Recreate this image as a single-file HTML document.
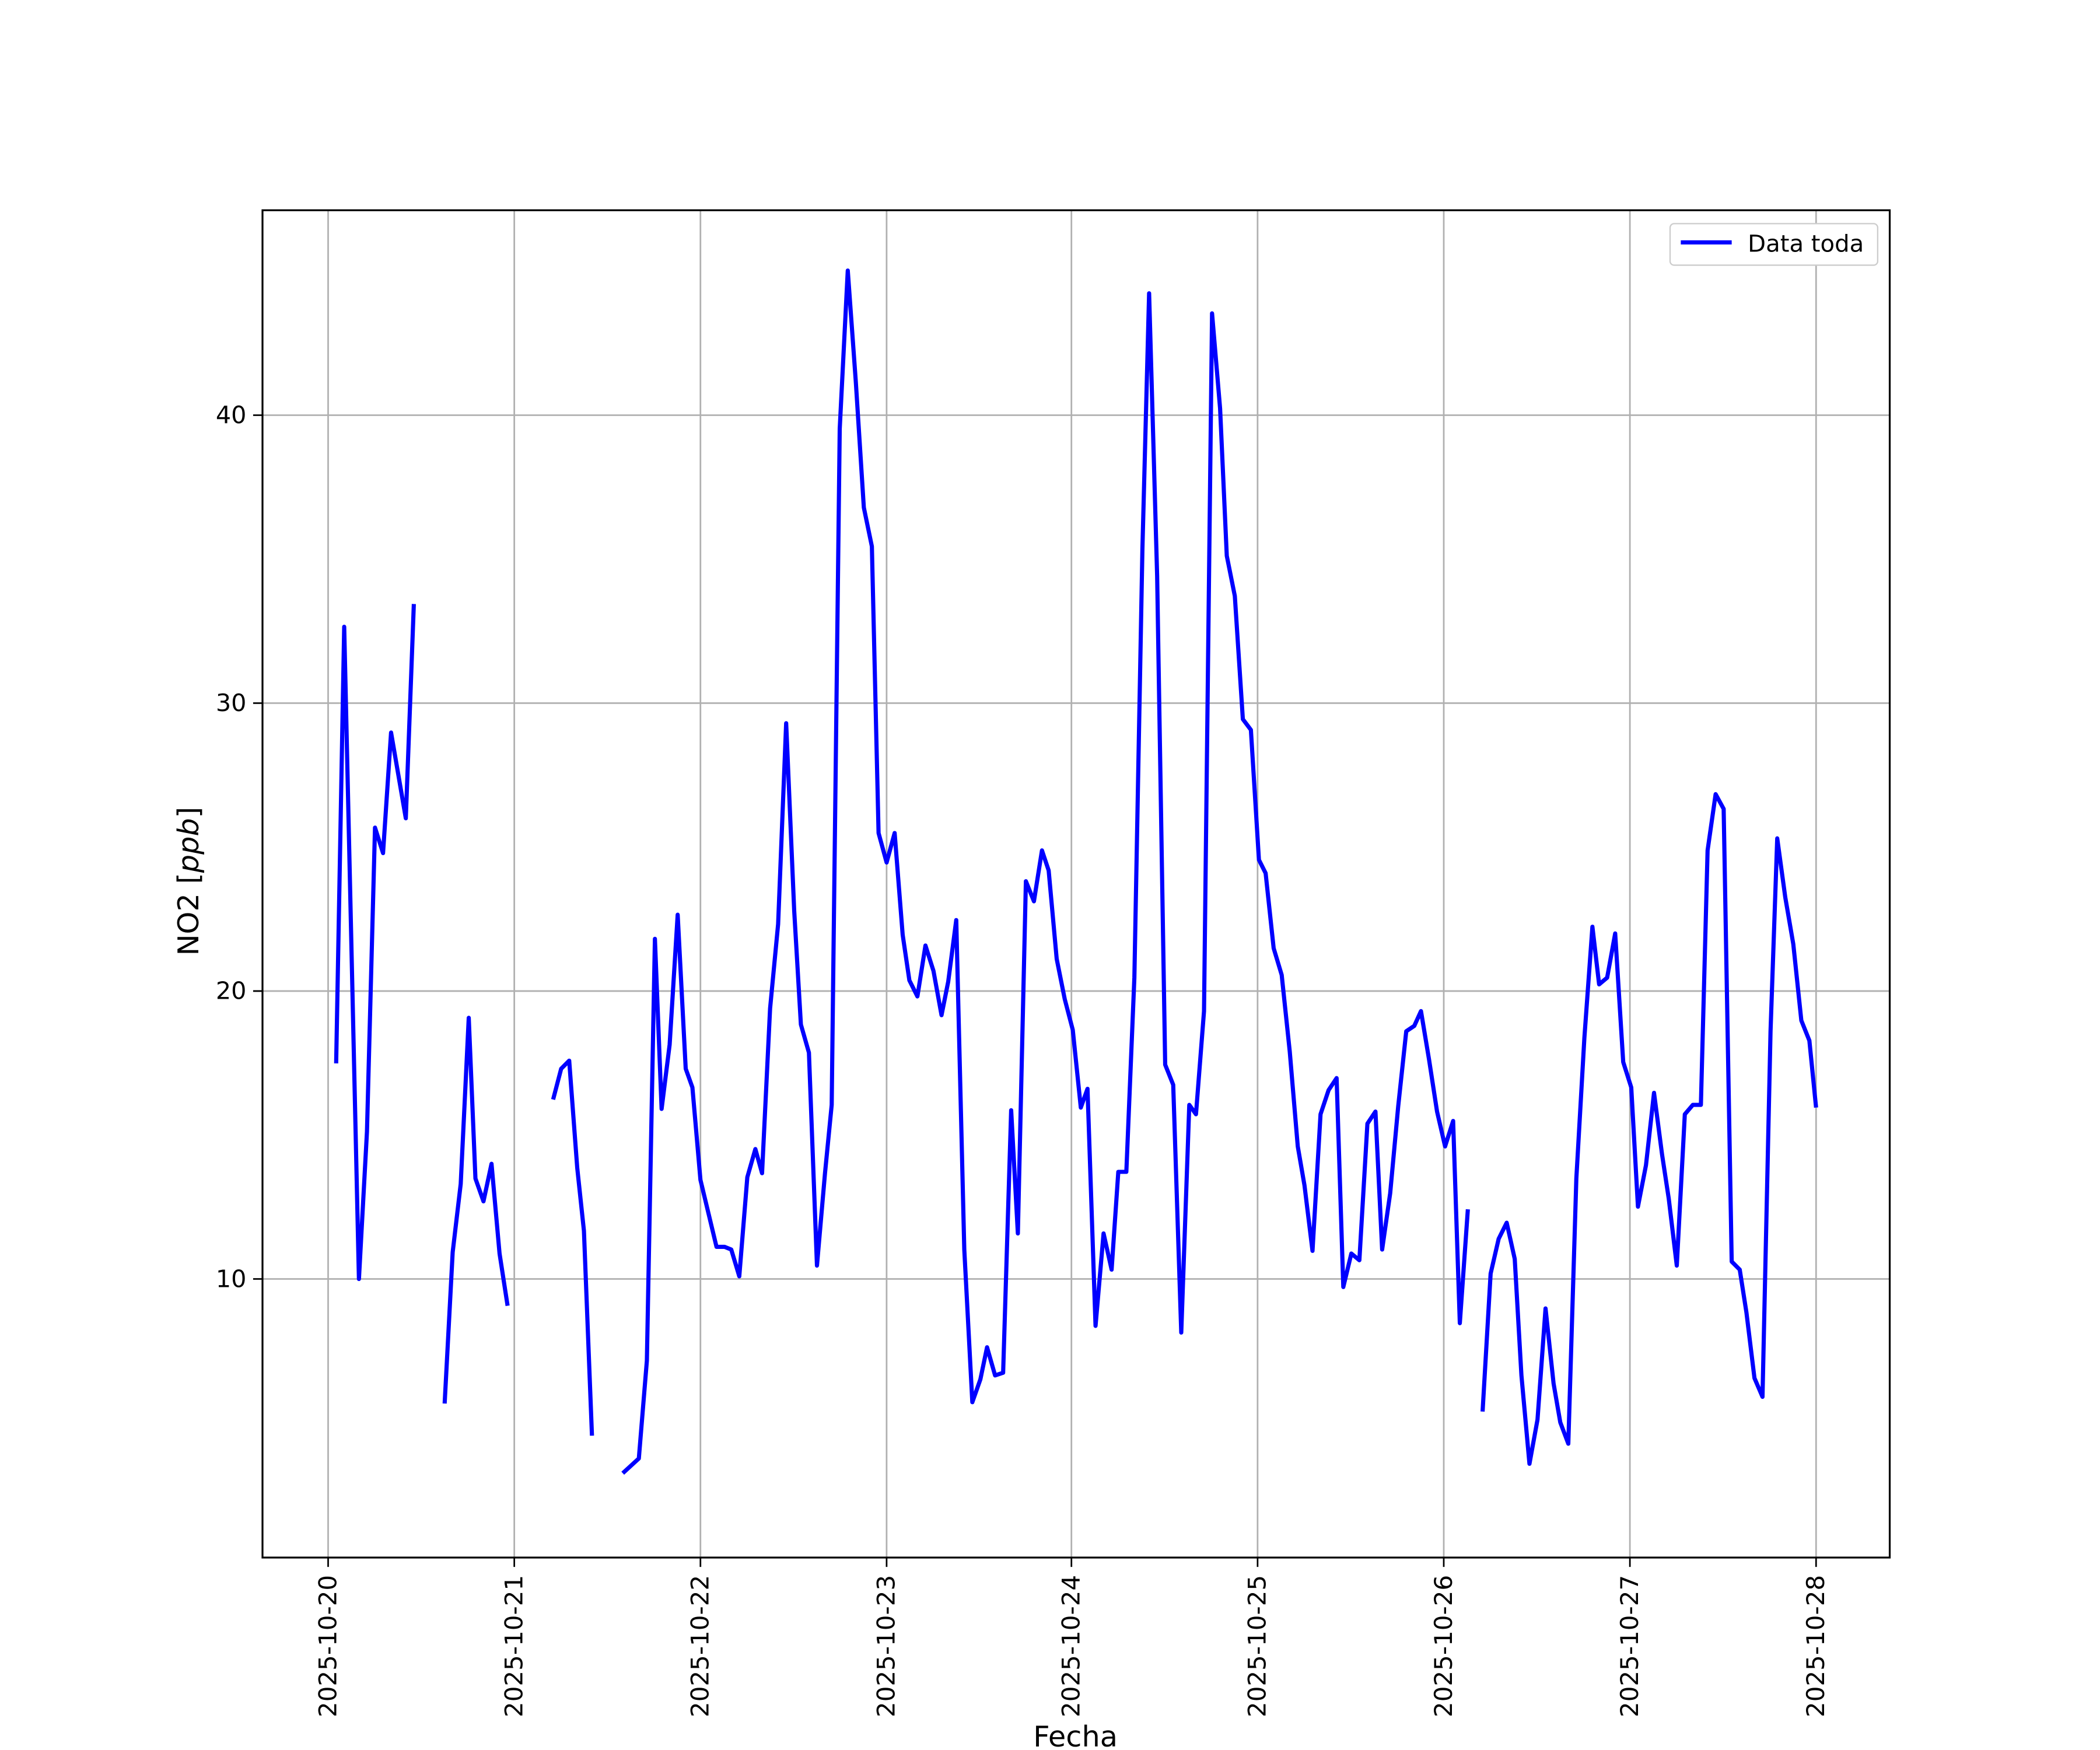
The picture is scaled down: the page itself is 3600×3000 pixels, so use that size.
<!DOCTYPE html>
<html><head><meta charset="utf-8"><style>html,body{margin:0;padding:0;background:#fff}svg{display:block}</style></head>
<body>
<svg width="3600" height="3000" viewBox="0 0 1568 1306.7" preserveAspectRatio="none" xmlns="http://www.w3.org/2000/svg" font-family="'DejaVu Sans','Liberation Sans',sans-serif">
<rect width="1568" height="1306.7" fill="#fff"/>
<g stroke="#b0b0b0" stroke-width="1.2">
<line x1="245" y1="157" x2="245" y2="1163"/><line x1="384" y1="157" x2="384" y2="1163"/><line x1="523" y1="157" x2="523" y2="1163"/><line x1="662" y1="157" x2="662" y2="1163"/><line x1="800" y1="157" x2="800" y2="1163"/><line x1="939" y1="157" x2="939" y2="1163"/><line x1="1078" y1="157" x2="1078" y2="1163"/><line x1="1217" y1="157" x2="1217" y2="1163"/><line x1="1356" y1="157" x2="1356" y2="1163"/>
<line x1="196" y1="955" x2="1411" y2="955"/><line x1="196" y1="740" x2="1411" y2="740"/><line x1="196" y1="525" x2="1411" y2="525"/><line x1="196" y1="310" x2="1411" y2="310"/>
</g>
<g fill="none" stroke="#0000ff" stroke-width="3.1" stroke-linejoin="round">
<polyline points="251,794 257,468 268,955 274,845 280,618 286,637 292,547 303,611 309,451"/>
<polyline points="332,1048 338,935 344,884 350,760 355,880 361,897 367,869 373,936 379,975"/>
<polyline points="413,821 419,798 425,792 431,872 436,919 442,1072"/>
<polyline points="465,1100 477,1089 483,1016 489,701 494,828 500,780 506,683 512,798 517,812 523,881 529,906 535,931 541,931 546,933 552,953 558,879 564,858 569,876 575,753 581,690 587,540 593,680 598,765 604,786 610,945 616,876 621,825 627,320 633,202 639,285 645,379 651,408 656,622 662,644 668,622 674,698 679,732 685,744 691,706 697,725 703,758 708,733 714,687 720,933 726,1047 732,1030 737,1006 743,1027 749,1025 755,829 760,921 766,658 772,673 778,635 783,650 789,716 795,746 801,769 807,827 812,813 818,990 824,921 830,948 835,875 841,875 847,730 853,410 858,219 864,430 870,795 876,810 882,995 888,825 893,832 899,755 905,234 911,305 916,415 922,445 928,537 934,545 940,642 945,652 951,708 957,728 963,785 969,856 974,885 980,934 986,832 992,814 998,805 1003,961 1009,936 1015,941 1021,839 1027,830 1032,933 1038,891 1044,826 1050,770 1056,766 1061,755 1067,791 1073,830 1079,856 1085,837 1090,988 1096,903"/>
<polyline points="1107,1054 1113,951 1119,925 1125,913 1131,940 1136,1027 1142,1093 1148,1060 1154,977 1160,1033 1165,1062 1171,1078 1177,880 1183,775 1189,692 1194,735 1200,730 1206,697 1212,793 1218,812 1223,901 1229,870 1235,816 1241,862 1246,895 1252,945 1258,832 1264,825 1270,825 1275,635 1281,593 1287,604 1293,942 1299,948 1304,980 1310,1029 1316,1043 1322,770 1327,626 1333,670 1339,705 1345,762 1351,777 1356,827"/>
</g>
<rect x="196" y="157" width="1215" height="1006" fill="none" stroke="#000" stroke-width="1.4"/>
<g stroke="#000" stroke-width="1.2">
<line x1="245" y1="1163" x2="245" y2="1170"/><line x1="384" y1="1163" x2="384" y2="1170"/><line x1="523" y1="1163" x2="523" y2="1170"/><line x1="662" y1="1163" x2="662" y2="1170"/><line x1="800" y1="1163" x2="800" y2="1170"/><line x1="939" y1="1163" x2="939" y2="1170"/><line x1="1078" y1="1163" x2="1078" y2="1170"/><line x1="1217" y1="1163" x2="1217" y2="1170"/><line x1="1356" y1="1163" x2="1356" y2="1170"/>
<line x1="189" y1="955" x2="196" y2="955"/><line x1="189" y1="740" x2="196" y2="740"/><line x1="189" y1="525" x2="196" y2="525"/><line x1="189" y1="310" x2="196" y2="310"/>
</g>
<g font-size="18" fill="#000" text-anchor="end">
<text x="184" y="961">10</text><text x="184" y="746">20</text><text x="184" y="531">30</text><text x="184" y="316">40</text>
</g>
<g font-size="18.3" fill="#000" text-anchor="end">
<text transform="translate(251,1176) rotate(-90)">2025-10-20</text>
<text transform="translate(390,1176) rotate(-90)">2025-10-21</text>
<text transform="translate(529,1176) rotate(-90)">2025-10-22</text>
<text transform="translate(668,1176) rotate(-90)">2025-10-23</text>
<text transform="translate(806,1176) rotate(-90)">2025-10-24</text>
<text transform="translate(945,1176) rotate(-90)">2025-10-25</text>
<text transform="translate(1084,1176) rotate(-90)">2025-10-26</text>
<text transform="translate(1223,1176) rotate(-90)">2025-10-27</text>
<text transform="translate(1362,1176) rotate(-90)">2025-10-28</text>
</g>
<text x="803" y="1304" font-size="21.5" text-anchor="middle">Fecha</text>
<text transform="translate(148,658) rotate(-90)" font-size="21.5" text-anchor="middle">NO2 [<tspan font-style="italic">ppb</tspan>]</text>
<rect x="1247" y="167" width="155" height="31" rx="3" fill="#fff" stroke="#ccc" stroke-width="1"/>
<line x1="1255" y1="181" x2="1293" y2="181" stroke="#0000ff" stroke-width="3.1"/>
<text x="1305" y="188" font-size="17.5">Data toda</text>
</svg>
</body></html>
